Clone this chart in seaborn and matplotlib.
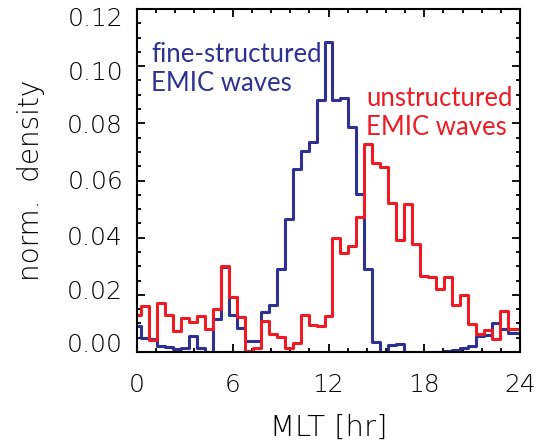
import numpy as np
import pandas as pd
import matplotlib
matplotlib.use("Agg")
import matplotlib.pyplot as plt
from matplotlib.ticker import MultipleLocator
from matplotlib.transforms import ScaledTranslation
import seaborn as sns

# ---- data ----
mlt = np.arange(0, 24.5, 0.5)  # bin centres [hr]
fine_structured = [
    0.0090, 0.0050, 0.0045, 0.0021, 0.0018, 0.0009, 0.0015, 0.0056, 0.0015, 0.0001,
    0.0114, 0.0299, 0.0128, 0.0083, 0.0040, 0.0040, 0.0141, 0.0164, 0.0289, 0.0467,
    0.0641, 0.0703, 0.0734, 0.0882, 0.1083, 0.0882, 0.0888, 0.0786, 0.0554, 0.0292,
    0.0036, 0.0000, 0.0026, 0.0028, 0.0000, 0.0000, 0.0000, 0.0000, 0.0000, 0.0004,
    0.0006, 0.0013, 0.0021, 0.0055, 0.0060, 0.0100, 0.0079, 0.0065, 0.0065,
]
unstructured = [
    0.0129, 0.0162, 0.0042, 0.0170, 0.0130, 0.0073, 0.0118, 0.0106, 0.0125, 0.0081,
    0.0152, 0.0300, 0.0191, 0.0122, 0.0004, 0.0014, 0.0109, 0.0064, 0.0052, 0.0014,
    0.0033, 0.0129, 0.0094, 0.0091, 0.0126, 0.0398, 0.0345, 0.0372, 0.0472, 0.0728,
    0.0662, 0.0647, 0.0521, 0.0391, 0.0519, 0.0377, 0.0265, 0.0261, 0.0220, 0.0261,
    0.0164, 0.0199, 0.0098, 0.0062, 0.0077, 0.0045, 0.0144, 0.0080, 0.0079,
]
x_ticks = [0, 6, 12, 18, 24]
y_ticks = [0.00, 0.02, 0.04, 0.06, 0.08, 0.10, 0.12]

BLUE = "#2e3192"
RED = "#ed1c24"

sns.set_style("ticks")
plt.rcParams["font.family"] = ["DejaVu Sans"]
plt.rcParams["text.color"] = "black"
plt.rcParams["axes.labelcolor"] = "black"

AX_FONT = dict(family=["DejaVu Sans"], weight="light")

df = pd.DataFrame({"mlt": mlt, "fine": fine_structured, "unstr": unstructured})
edges = [float(c) - 0.25 for c in mlt] + [float(mlt[-1]) + 0.25]

fig = plt.figure(figsize=(5.38, 4.46), dpi=100)
ax = fig.add_axes([137 / 538, 1 - 352 / 446, (520 - 137) / 538, (352 - 9) / 446])

sns.histplot(data=df, x="mlt", weights="fine", bins=edges, element="step",
             fill=False, color=BLUE, linewidth=2.2, ax=ax)
sns.histplot(data=df, x="mlt", weights="unstr", bins=edges, element="step",
             fill=False, color=RED, linewidth=2.2, ax=ax)

ax.set_xlim(0, 24)
ax.set_ylim(0, 0.12)
ax.set_xticks(x_ticks)
ax.set_xticklabels([str(t) for t in x_ticks], fontsize=18, **AX_FONT)
ax.set_yticks(y_ticks)
ax.set_yticklabels([f"{t:.2f}" for t in y_ticks], fontsize=18, **AX_FONT)
ax.xaxis.set_minor_locator(MultipleLocator(1.2))
ax.yaxis.set_minor_locator(MultipleLocator(0.005))
ax.tick_params(which="both", direction="in", top=True, right=True,
               colors="black", width=1.3)
ax.tick_params(which="major", length=6)
ax.tick_params(axis="x", which="major", pad=15)
ax.tick_params(axis="y", which="major", pad=10)
ax.tick_params(which="minor", length=3)
for s in ax.spines.values():
    s.set_linewidth(1.5)
    s.set_color("black")

# the reference's y labels sit slightly off their ticks (pixels, + = up)
label_shift_px = [10, 5, 2, 1, 0, -4, -8]
for tick, dpx in zip(ax.yaxis.get_major_ticks(), label_shift_px):
    lab = tick.label1
    lab.set_transform(lab.get_transform() +
                      ScaledTranslation(0, dpx / 100.0, fig.dpi_scale_trans))

ax.set_xlabel("MLT [hr]", fontsize=21, labelpad=12, color="black", **AX_FONT)
ax.set_ylabel("norm.  density", fontsize=20, labelpad=16, color="black", **AX_FONT)

fig.text(151 / 538, 1 - 42 / 446, "fine-structured\nEMIC waves", color=BLUE,
         fontsize=18.5, family=["Lato", "DejaVu Sans"], va="top", ha="left",
         linespacing=1.2)
fig.text(366 / 538, 1 - 86 / 446, "unstructured\nEMIC waves", color=RED,
         fontsize=18.5, family=["Lato", "DejaVu Sans"], va="top", ha="left",
         linespacing=1.2)

fig.savefig("out.png", dpi=100)
